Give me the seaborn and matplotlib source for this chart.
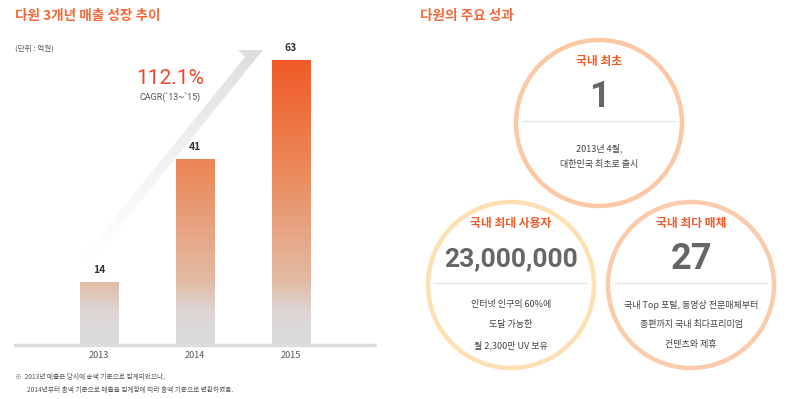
import numpy as np
import matplotlib.pyplot as plt
import seaborn as sns
from matplotlib.colors import LinearSegmentedColormap
from matplotlib.patches import Circle, Polygon

# Data
years = ['2013', '2014', '2015']
sales = [14, 41, 63]
cagr_value = '112.1%'
cagr_label = "CAGR(`13~`15)"

stat_titles = ['국내 최초', '국내 최대 사용자', '국내 최다 매체']
stat_values = ['1', '23,000,000', '27']
stat_notes = [
    ['2013년 4월,', '대한민국 최초로 출시'],
    ['인터넷 인구의 60%에', '도달 가능한', '월 2,300만 UV 보유'],
    ['국내 Top 포털, 동영상 전문매체부터', '종편까지 국내 최다프리미엄', '컨텐츠와 제휴'],
]

sns.set_style('white')
plt.rcParams['font.family'] = ['Noto Sans CJK KR', 'DejaVu Sans']

ORANGE = '#f05a28'
DARK = '#444444'

fig = plt.figure(figsize=(8, 3.99), dpi=100)

# bar chart axes (pixel layout: x 15..375, baseline at y=345)
ax = fig.add_axes([15 / 800, (399 - 345) / 399, 360 / 800, 315 / 399])
sns.barplot(x=years, y=sales, ax=ax, width=0.396, color='white', saturation=1)
ax.set_xlim(-0.875, 2.875)
ax.set_ylim(0, 315 / 4.53)
ax.axis('off')

grad_cmap = LinearSegmentedColormap.from_list(
    'bar', [(0, '#dcdcde'), (0.12, '#dcd6d4'), (14 / 63, '#e2bba4'),
            (41 / 63, '#ec8554'), (1, ORANGE)])
grad = np.linspace(0, 1, 256).reshape(-1, 1)
for p, v in zip(ax.patches, sales):
    im = ax.imshow(grad, cmap=grad_cmap, origin='lower', aspect='auto',
                   extent=(-0.875, 2.875, 0, max(sales)), zorder=2)
    im.set_clip_path(p)
    ax.text(p.get_x() + p.get_width() / 2, v + 1.5, str(v), ha='center',
            va='bottom', fontsize=7.5, fontweight='bold', color='#333333')
ax.set_xlim(-0.875, 2.875)
ax.set_ylim(0, 315 / 4.53)
ax.axhline(0, color='#dcdcdc', lw=2.5, zorder=3, clip_on=False)
for i, y in enumerate(years):
    ax.text(i, -2.4, y, ha='center', va='center', fontsize=6.5, color='#555555')

# overlay axes in pixel coordinates
ov = fig.add_axes([0, 0, 1, 1], zorder=-1)
ov.set_xlim(0, 800)
ov.set_ylim(399, 0)
ov.axis('off')

ov.text(15, 16, '다원 3개년 매출 성장 추이', fontsize=9.8, fontweight='bold',
        color='#f26a3c', va='center')
ov.text(15, 49, '(단위 : 억원)', fontsize=5.5, color='#555555', va='center')

# gradient arrow
arrow = Polygon([(238, 50), (263, 50), (90, 264), (77, 264), (245, 57)],
                closed=True, facecolor='none', edgecolor='none')
ov.add_patch(arrow)
rgba = np.zeros((256, 1, 4))
rgba[..., :3] = 0.87
rgba[:, 0, 3] = np.linspace(1, 0, 256) ** 1.3
aim = ov.imshow(rgba, extent=(70, 270, 264, 48), aspect='auto', zorder=1)
aim.set_clip_path(arrow)
ov.set_xlim(0, 800)
ov.set_ylim(399, 0)

ov.text(170, 78, cagr_value, fontsize=15, color='#f0452e', ha='center',
        va='center', family=['Roboto', 'DejaVu Sans'])
ov.text(170, 97, cagr_label, fontsize=6.5, color='#555555', ha='center',
        va='center', family=['Roboto', 'DejaVu Sans'])

ov.text(15, 377, '※  2013년 매출은 당시에 순액 기준으로 집계되었으나,', fontsize=4.8,
        color='#555555', va='center')
ov.text(27, 390, '2014년부터 총액 기준으로 매출을 집계함에 따라 총액 기준으로 변환하였음.',
        fontsize=4.8, color='#555555', va='center')

# right panel
ov.text(420, 16, '다원의 주요 성과', fontsize=9.8, fontweight='bold',
        color='#f26a3c', va='center')

centers = [(599, 123), (511, 285), (691, 285)]
ring_colors = ['#fdc8a6', '#fee0b2', '#fccbab']
for (cx, cy), rc, title, val, notes in zip(centers, ring_colors, stat_titles,
                                           stat_values, stat_notes):
    ov.add_patch(Circle((cx, cy), 83, facecolor='white', edgecolor=rc,
                        lw=3.2, zorder=2))
    ov.text(cx, cy - 62, title, ha='center', va='center', fontsize=8.5,
            fontweight='bold', color=ORANGE, zorder=3)
    vsize = 19 if len(val) > 3 else 26
    ov.text(cx, cy - 26, val, ha='center', va='center', fontsize=vsize,
            fontweight='bold', color='#666666', zorder=3,
            family=['Roboto', 'DejaVu Sans'])
    ov.plot([cx - 76, cx + 76], [cy - 2, cy - 2], color='#e6e6e6', lw=1,
            zorder=3)
    step, start = (20, 20) if len(notes) > 2 else (17, 25)
    for k, line in enumerate(notes):
        ov.text(cx, cy + start + k * step, line, ha='center', va='center',
                fontsize=6.5, color=DARK, zorder=3)

plt.savefig('out.png', dpi=100)
